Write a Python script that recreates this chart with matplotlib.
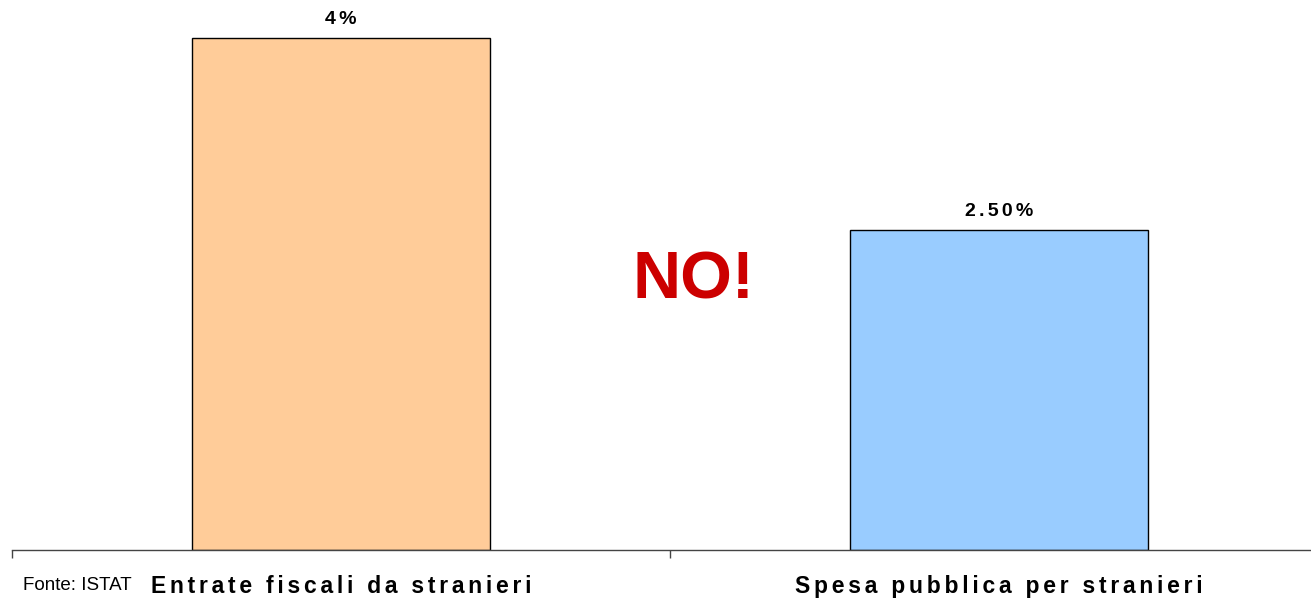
import matplotlib.pyplot as plt
import numpy as np

categorie = ["Entrate fiscali da stranieri", "Spesa pubblica per stranieri"]
valori = [4.0, 2.5]
etichette = ["4%", "2.50%"]
colori = ["#FFCC99", "#99CCFF"]

plt.rcParams['font.family'] = ['Liberation Sans', 'DejaVu Sans']


def spaziato(testo, sep="\u200a"):
    # allarga le lettere inserendo spazi sottili
    return sep.join(testo)


fig = plt.figure(figsize=(13.11, 6.03), dpi=100)
ax = fig.add_axes([12 / 1311, 53 / 603, 1316 / 1311, 550 / 603])

x = np.arange(len(categorie)) + 0.5
ax.bar(x, valori, width=0.454, color=colori, edgecolor="black", linewidth=1)

for xi, v, lab in zip(x, valori, etichette):
    ax.text(xi, v + 0.11, spaziato(lab, "\u200a\u200a"), ha="center", va="baseline",
            fontsize=14, fontweight="bold")

ax.set_xlim(0, 2)
ax.set_ylim(0, 4.3)
ax.set_xticks([0, 1, 2])
ax.set_xticklabels([])
ax.set_yticks([])
ax.tick_params(axis="x", length=6, width=1, color="#444444")
for s in ["top", "right", "left"]:
    ax.spines[s].set_visible(False)
ax.spines["bottom"].set_color("#444444")
ax.spines["bottom"].set_linewidth(1)

for xi, cat in zip(x, categorie):
    ax.text(xi, -0.34, spaziato(cat, "\u200a\u200a"), ha="center", va="baseline",
            fontsize=16.5, fontweight="bold")

ax.text(1.035, 1.97, "NO!", ha="center", va="baseline",
        fontsize=48, fontweight="bold", color="#CC0000")

fig.text(23 / 1311, 1 - 590 / 603, "Fonte: ISTAT", ha="left", va="baseline",
         fontsize=13.5)

fig.savefig("out.png", dpi=100)
